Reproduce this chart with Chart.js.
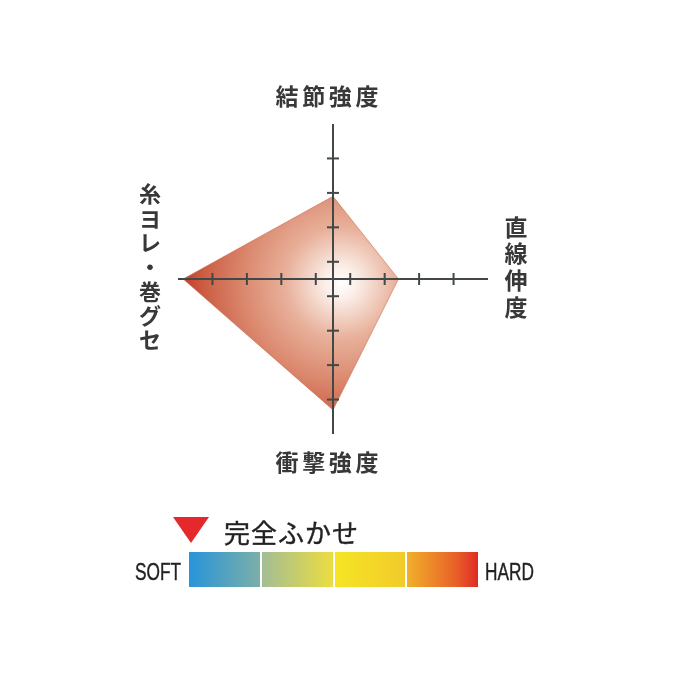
<!DOCTYPE html>
<html lang="ja">
<head>
<meta charset="utf-8">
<script src="https://cdn.jsdelivr.net/npm/chart.js@4.4.1/dist/chart.umd.min.js"></script>
<style>
  html, body { margin: 0; padding: 0; background: #fff; }
  #wrap { position: relative; width: 680px; height: 680px; overflow: hidden; }
  #chart { position: absolute; left: 0; top: 0; }
  .tri {
    position: absolute; left: 173px; top: 517px; width: 0; height: 0;
    border-left: 18px solid transparent; border-right: 18px solid transparent;
    border-top: 26px solid #e5282b;
  }
  .name {
    position: absolute; left: 224px; top: 518px;
    font: 26px/28px "Noto Sans CJK JP", sans-serif; letter-spacing: 1px; color: #222;
    -webkit-text-stroke: 0.4px #222;
  }
  .bar { position: absolute; left: 189px; top: 552px; width: 289px; height: 35px; display: flex; gap: 2px; }
  .bar div { flex: 1; }
  .end {
    position: absolute; top: 559px; font: 23px/26px "Liberation Sans", Arial, sans-serif;
    color: #222; transform: scaleX(0.75); transform-origin: left top;
    -webkit-text-stroke: 0.4px #222;
  }
</style>
</head>
<body>
<div id="wrap">
  <canvas id="chart" width="680" height="680"></canvas>
  <div class="tri"></div>
  <div class="name">完全ふかせ</div>
  <div class="bar">
    <div style="background: linear-gradient(to right, #2894d9, #7bafa8);"></div>
    <div style="background: linear-gradient(to right, #a3bd95, #ecdd41);"></div>
    <div style="background: linear-gradient(to right, #f5e524, #f2cb2b);"></div>
    <div style="background: linear-gradient(to right, #f0b02b, #e85f28 70%, #e02a25);"></div>
  </div>
  <div class="end" style="left: 135px;">SOFT</div>
  <div class="end" style="left: 485px;">HARD</div>
</div>
<script>
// 軸ラベルと値
const axisLabels = ["結節強度", "直線伸度", "衝撃強度", "糸ヨレ・巻グセ"];
const values = [2.9, 2.4, 4.3, 4.85];
const tickValues = [1, 2, 3, 4];
const scaleMin = 0.5;
const scaleMax = 5;

// 軸（十字）と目盛り、ラベルを描くプラグイン
const crossAxes = {
  id: "crossAxes",
  afterDatasetsDraw(chart) {
    const s = chart.scales.r;
    const ctx = chart.ctx;
    ctx.save();
    ctx.strokeStyle = "#424848";
    ctx.lineWidth = 2;
    for (let i = 0; i < axisLabels.length; i++) {
      const end = s.getPointPositionForValue(i, scaleMax);
      ctx.beginPath();
      ctx.moveTo(s.xCenter, s.yCenter);
      ctx.lineTo(end.x, end.y);
      ctx.stroke();
      tickValues.forEach(v => {
        const p = s.getPointPositionForValue(i, v);
        ctx.beginPath();
        if (i % 2 === 0) {
          ctx.moveTo(p.x - 6, p.y);
          ctx.lineTo(p.x + 6, p.y);
        } else {
          ctx.moveTo(p.x, p.y - 6);
          ctx.lineTo(p.x, p.y + 6);
        }
        ctx.stroke();
      });
    }

    // ラベル（左右は縦書き）
    ctx.fillStyle = "#383838";
    ctx.textAlign = "center";
    ctx.textBaseline = "middle";
    axisLabels.forEach((txt, i) => {
      const p = s.getPointPosition(i, s.drawingArea + 28);
      const chars = Array.from(txt);
      if (i % 2 === 0) {
        ctx.font = "bold 23px 'Noto Sans CJK JP'";
        const step = 26.7;
        const x0 = p.x - 6 - step * (chars.length - 1) / 2;
        chars.forEach((c, k) => ctx.fillText(c, x0 + k * step, p.y));
      } else {
        const step = i === 1 ? 26.7 : 24.3;
        ctx.font = i === 1 ? "bold 23px 'Noto Sans CJK JP'" : "bold 22px 'Noto Sans CJK JP'";
        const y0 = p.y - 12 - step * (chars.length - 1) / 2;
        chars.forEach((c, k) => ctx.fillText(c, p.x, y0 + k * step));
      }
    });
    ctx.restore();
  }
};

function polyFill(context) {
  const chart = context.chart;
  const s = chart.scales.r;
  if (!s || !chart.chartArea) return "#d98a70";
  const cx = s.xCenter + 8, cy = s.yCenter + 4;
  const g = chart.ctx.createRadialGradient(cx, cy, 0, cx, cy, 160);
  g.addColorStop(0, "#ffffff");
  g.addColorStop(0.1, "#fbeee8");
  g.addColorStop(0.35, "#e8b09a");
  g.addColorStop(0.6, "#db8a70");
  g.addColorStop(0.85, "#cc5f45");
  g.addColorStop(1, "#c23a28");
  return g;
}

new Chart(document.getElementById("chart"), {
  type: "radar",
  data: {
    labels: axisLabels,
    datasets: [{
      data: values,
      backgroundColor: polyFill,
      borderColor: "rgba(205,110,85,0.6)",
      borderWidth: 1,
      pointRadius: 0,
      fill: true
    }]
  },
  options: {
    responsive: false,
    animation: false,
    events: [],
    layout: { padding: { left: 178, right: 192, top: 124, bottom: 246 } },
    plugins: { legend: { display: false }, tooltip: { enabled: false } },
    scales: {
      r: {
        min: scaleMin,
        max: scaleMax,
        ticks: { display: false, stepSize: 1 },
        grid: { display: false },
        angleLines: { display: false },
        pointLabels: { display: false }
      }
    }
  },
  plugins: [crossAxes]
});
</script>
</body>
</html>
